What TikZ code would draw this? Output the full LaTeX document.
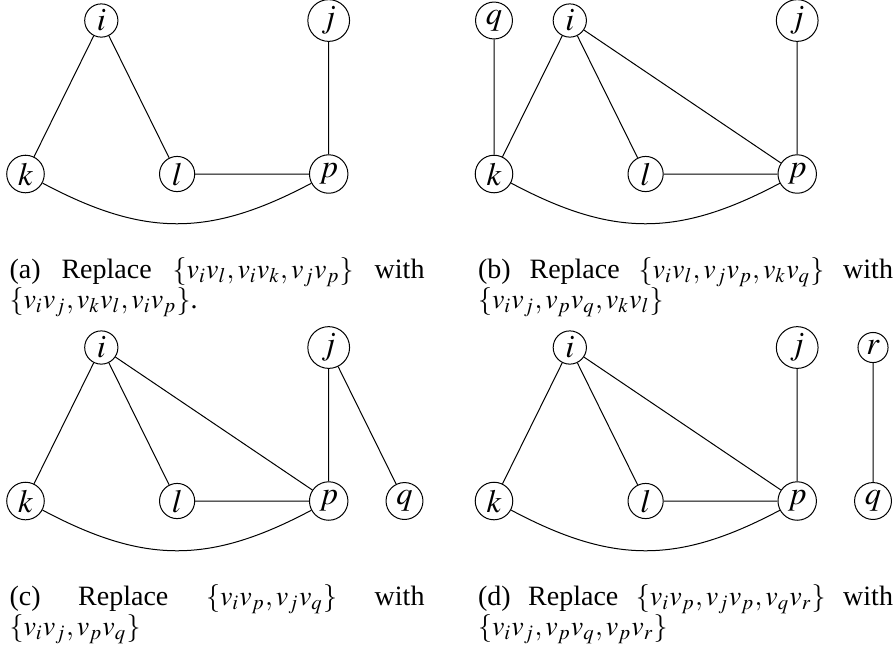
\documentclass[tikz,border=0pt]{standalone}
\usepackage{mathptmx}
\usepackage{fontspec}
\setmainfont{Liberation Serif}

\begin{document}
\begin{tikzpicture}[x=30.32pt, y=30.7pt, font=\fontsize{11.2}{12}\selectfont,
    vtx/.style={circle, draw, inner sep=1.5pt, font=\fontsize{13}{14}\selectfont},
    subcap/.style={anchor=north west, inner sep=0pt, text width=166pt, align=justify}]
  \useasboundingbox (-10.2pt,69.6pt) rectangle (347.8pt,-191.2pt);
  % (a)
  \node[vtx] (ai) at (1,2) {$i$};
  \node[vtx] (aj) at (4,2) {$j$};
  \node[vtx] (ak) at (0,0) {$k$};
  \node[vtx] (al) at (2,0) {$l$};
  \node[vtx] (ap) at (4,0) {$p$};
  \draw (ai) -- (ak) (ai) -- (al) (aj) -- (ap) (al) -- (ap);
  \draw (ak) to[bend right=28, looseness=1.1] (ap);
  \node[subcap] (acap) at (-6.6pt,-33.2pt)
    {(a) Replace $\{v_iv_l, v_iv_k, v_jv_p\}$ with\linebreak $\{v_iv_j, v_kv_l, v_iv_p\}$.};
  % (b)
  \begin{scope}[xshift=187.4pt]
    \node[vtx] (bq) at (0,2) {$q$};
    \node[vtx] (bi) at (1,2) {$i$};
    \node[vtx] (bj) at (4,2) {$j$};
    \node[vtx] (bk) at (0,0) {$k$};
    \node[vtx] (bl) at (2,0) {$l$};
    \node[vtx] (bp) at (4,0) {$p$};
    \draw (bq) -- (bk) (bi) -- (bk) (bi) -- (bl) (bi) -- (bp)
          (bj) -- (bp) (bl) -- (bp);
    \draw (bk) to[bend right=28, looseness=1.1] (bp);
    \node[subcap] (bcap) at (-6.6pt,-33.2pt)
      {(b) Replace $\{v_iv_l, v_jv_p, v_kv_q\}$ with\linebreak $\{v_iv_j, v_pv_q, v_kv_l\}$};
  \end{scope}
  % (c)
  \begin{scope}[yshift=-130.8pt]
    \node[vtx] (ci) at (1,2) {$i$};
    \node[vtx] (cj) at (4,2) {$j$};
    \node[vtx] (ck) at (0,0) {$k$};
    \node[vtx] (cl) at (2,0) {$l$};
    \node[vtx] (cp) at (4,0) {$p$};
    \node[vtx] (cq) at (5,0) {$q$};
    \draw (ci) -- (ck) (ci) -- (cl) (ci) -- (cp) (cj) -- (cp)
          (cj) -- (cq) (cl) -- (cp);
    \draw (ck) to[bend right=28, looseness=1.1] (cp);
    \node[subcap] (ccap) at (-6.6pt,-33.2pt)
      {(c) Replace $\{v_iv_p, v_jv_q\}$ with\linebreak $\{v_iv_j, v_pv_q\}$};
  \end{scope}
  % (d)
  \begin{scope}[xshift=187.4pt, yshift=-130.8pt]
    \node[vtx] (di) at (1,2) {$i$};
    \node[vtx] (dj) at (4,2) {$j$};
    \node[vtx] (dr) at (5,2) {$r$};
    \node[vtx] (dk) at (0,0) {$k$};
    \node[vtx] (dl) at (2,0) {$l$};
    \node[vtx] (dp) at (4,0) {$p$};
    \node[vtx] (dq) at (5,0) {$q$};
    \draw (di) -- (dk) (di) -- (dl) (di) -- (dp) (dj) -- (dp)
          (dl) -- (dp) (dr) -- (dq);
    \draw (dk) to[bend right=28, looseness=1.1] (dp);
    \node[subcap] (dcap) at (-6.6pt,-33.2pt)
      {(d) Replace $\{v_iv_p, v_jv_p, v_qv_r\}$ with\linebreak $\{v_iv_j, v_pv_q, v_pv_r\}$};
  \end{scope}
\end{tikzpicture}
\end{document}
